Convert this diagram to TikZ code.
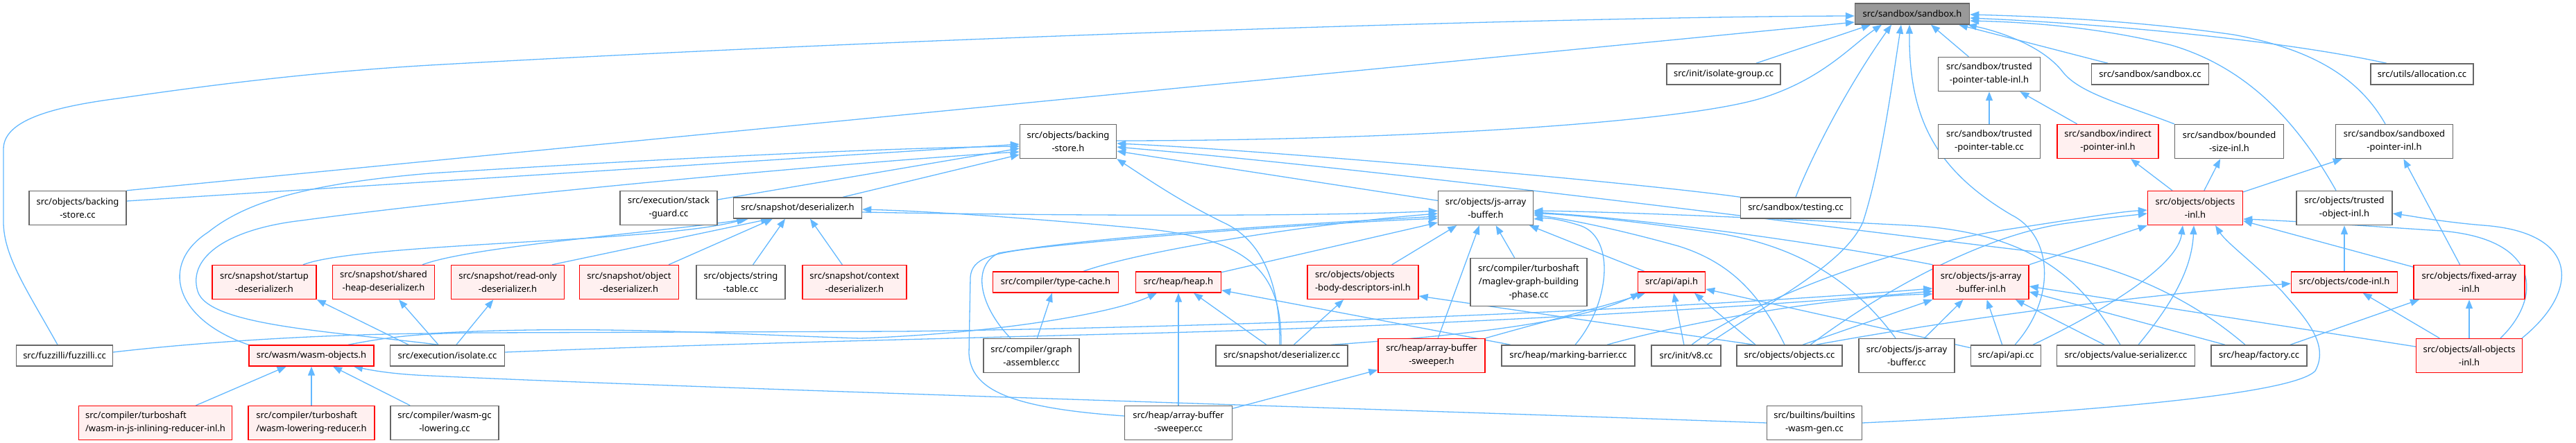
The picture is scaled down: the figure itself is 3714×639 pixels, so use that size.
\documentclass[tikz,border=0pt]{standalone}
\usepackage{fontspec}
\setmainfont{Noto Sans}
\usetikzlibrary{arrows.meta}
\pgfdeclarelayer{bg}
\pgfsetlayers{bg,main}
\definecolor{edgec}{HTML}{63B8FF}
\definecolor{redfill}{HTML}{FFF0F0}
\definecolor{rootfill}{HTML}{999999}
\definecolor{bord}{HTML}{666666}
\tikzset{
 box/.style={draw=bord, fill=white, line width=1.4pt, inner sep=0pt, align=center, font=\fontsize{13}{19}\selectfont, text=black},
 rbox/.style={box, draw=red, fill=redfill},
 root/.style={box, fill=rootfill},
 wd/.style={minimum width=#1},
 s1/.style={minimum height=30pt},
 s2/.style={minimum height=49pt},
 s3/.style={minimum height=69pt},
 e/.style={draw=edgec, line width=1.3pt, -{Triangle[length=13pt,width=10pt]}},
}
\begin{document}
\begin{tikzpicture}[x=1pt,y=-1pt]
\useasboundingbox (0,0) rectangle (3714,639);
\node[root,wd=165,s1] (S) at (2757,20) {src/sandbox/sandbox.h};
\node[box,wd=164,s1] (isogroup) at (2485,107) {src/init/isolate-group.cc};
\node[box,wd=147,s2] (tptinl) at (2868,107) {src/sandbox/trusted\\-pointer-table-inl.h};
\node[box,wd=169,s1] (sandboxcc) at (3100,107) {src/sandbox/sandbox.cc};
\node[box,wd=148,s1] (alloc) at (3492,107) {src/utils/allocation.cc};
\node[box,wd=139,s2] (BSH) at (1540,204) {src/objects/backing\\-store.h};
\node[box,wd=147,s2] (tptcc) at (2868,204) {src/sandbox/trusted\\-pointer-table.cc};
\node[rbox,wd=146,s2] (indptr) at (3039,204) {src/sandbox/indirect\\-pointer-inl.h};
\node[box,wd=157,s2] (bounded) at (3214,204) {src/sandbox/bounded\\-size-inl.h};
\node[box,wd=169,s2] (sbptr) at (3452,204) {src/sandbox/sandboxed\\-pointer-inl.h};
\node[box,wd=140,s2] (bscc) at (112,300) {src/objects/backing\\-store.cc};
\node[box,wd=140,s2] (stackguard) at (964,300) {src/execution/stack\\-guard.cc};
\node[box,wd=185,s1] (desh) at (1150,300) {src/snapshot/deserializer.h};
\node[box,wd=137,s2] (jsabh) at (2142,300) {src/objects/js-array\\-buffer.h};
\node[box,wd=159,s1] (testing) at (2589,300) {src/sandbox/testing.cc};
\node[rbox,wd=137,s2] (objinl) at (3165,300) {src/objects/objects\\-inl.h};
\node[box,wd=138,s2] (trobj) at (3380,300) {src/objects/trusted\\-object-inl.h};
\node[rbox,wd=150,s2] (startup) at (381,407) {src/snapshot/startup\\-deserializer.h};
\node[rbox,wd=147,s2] (shared) at (553,407) {src/snapshot/shared\\-heap-deserializer.h};
\node[rbox,wd=163,s2] (readonly) at (732,407) {src/snapshot/read-only\\-deserializer.h};
\node[rbox,wd=143,s2] (objdes) at (907,407) {src/snapshot/object\\-deserializer.h};
\node[box,wd=128,s2] (stringtab) at (1068,407) {src/objects/string\\-table.cc};
\node[rbox,wd=150,s2] (context) at (1232,407) {src/snapshot/context\\-deserializer.h};
\node[rbox,wd=181,s1] (typecache) at (1522,407) {src/compiler/type-cache.h};
\node[rbox,wd=123,s1] (heap) at (1699,407) {src/heap/heap.h};
\node[rbox,wd=160,s2,align=left] (obd) at (1965,407) {src/objects/objects\\-body-descriptors-inl.h};
\node[box,wd=168,s3] (maglev) at (2204,407) {src/compiler/turboshaft\\/maglev-graph-building\\-phase.cc};
\node[rbox,wd=97,s1] (apih) at (2410,407) {src/api/api.h};
\node[rbox,wd=138,s2] (JABI) at (2856,407) {src/objects/js-array\\-buffer-inl.h};
\node[rbox,wd=153,s1] (codeinl) at (3380,407) {src/objects/code-inl.h};
\node[rbox,wd=160,s2] (FAI) at (3560,407) {src/objects/fixed-array\\-inl.h};
\node[box,wd=139,s1] (fuzzilli) at (93,513) {src/fuzzilli/fuzzilli.cc};
\node[rbox,wd=180,s1] (WO) at (449,513) {src/wasm/wasm-objects.h};
\node[box,wd=165,s1] (isolatecc) at (645,513) {src/execution/isolate.cc};
\node[box,wd=138,s2] (graphasm) at (1487,513) {src/compiler/graph\\-assembler.cc};
\node[box,wd=190,s1] (descc) at (1848,513) {src/snapshot/deserializer.cc};
\node[rbox,wd=154,s2] (abswh) at (2064,513) {src/heap/array-buffer\\-sweeper.h};
\node[box,wd=192,s1] (markbar) at (2261,513) {src/heap/marking-barrier.cc};
\node[box,wd=100,s1] (v8cc) at (2431,513) {src/init/v8.cc};
\node[box,wd=152,s1] (objectscc) at (2580,513) {src/objects/objects.cc};
\node[box,wd=138,s2] (jsabcc) at (2749,513) {src/objects/js-array\\-buffer.cc};
\node[box,wd=101,s1] (apicc) at (2892,513) {src/api/api.cc};
\node[box,wd=199,s1] (valueser) at (3065,513) {src/objects/value-serializer.cc};
\node[box,wd=138,s1] (factory) at (3257,513) {src/heap/factory.cc};
\node[rbox,wd=153,s2] (allobj) at (3560,513) {src/objects/all-objects\\-inl.h};
\node[rbox,wd=221,s2,align=left] (inlining) at (224,610) {src/compiler/turboshaft\\/wasm-in-js-inlining-reducer-inl.h};
\node[rbox,wd=182,s2,align=left] (lowering) at (449,610) {src/compiler/turboshaft\\/wasm-lowering-reducer.h};
\node[box,wd=156,s2] (wasmgc) at (641,610) {src/compiler/wasm-gc\\-lowering.cc};
\node[box,wd=155,s2] (abswcc) at (1699,610) {src/heap/array-buffer\\-sweeper.cc};
\node[box,wd=137,s2] (builtins) at (2616,610) {src/builtins/builtins\\-wasm-gen.cc};

\begin{pgfonlayer}{bg}
% sandbox.h
\draw[e] ([xshift=-10pt]fuzzilli.north) .. controls (40,420) and (5,370) .. (5,320) -- (5,215) .. controls (5,175) and (70,155) .. (170,142) .. controls (300,123) and (450,104) .. (620,94) .. controls (1400,50) and (2300,24) .. ([yshift=-3pt]S.west);
\draw[e] (bscc.north east) -- ([yshift=-12pt]S.west);
\draw[e] (isogroup) -- ([xshift=-60pt]S.south);
\draw[e] ([yshift=1pt]BSH.east) .. controls (2000,203) and (2430,178) .. (2545,140) .. controls (2630,112) and (2670,65) .. ([xshift=-44pt]S.south);
\draw[e] (testing.north) .. controls (2610,230) and (2660,130) .. ([xshift=-30pt]S.south);
\draw[e] ([xshift=30pt]v8cc.north) .. controls (2560,430) and (2660,380) .. (2686,320) .. controls (2712,240) and (2728,120) .. ([xshift=-16pt]S.south);
\draw[e] ([xshift=13pt]apicc.north) .. controls (2965,430) and (2960,340) .. (2900,310) .. controls (2790,245) and (2752,170) .. ([xshift=-4pt]S.south);
\draw[e] (tptinl) -- ([xshift=27pt]S.south);
\draw[e] (sandboxcc) -- ([xshift=67pt]S.south);
\draw[e] (bounded.north west) .. controls (3060,150) and (3000,135) .. (2975,105) .. controls (2945,65) and (2880,45) .. ([xshift=80pt]S.south);
\draw[e] ([xshift=-13pt]sbptr.north) .. controls (3400,110) and (3330,70) .. (3220,50) .. controls (3080,30) and (2950,24) .. ([yshift=-1pt]S.east);
\draw[e] ([xshift=-51pt]alloc.north) .. controls (3300,60) and (3050,35) .. ([yshift=-6pt]S.east);
\draw[e] ([xshift=-12pt]trobj.north) .. controls (3320,190) and (3250,100) .. (3130,65) .. controls (3020,38) and (2920,32) .. ([yshift=-10pt]S.east);
% trusted pointer table
\draw[e] (tptcc) -- (tptinl);
\draw[e] (indptr) -- (tptinl);
\draw[e] (objinl) -- (indptr);
\draw[e] (objinl) -- (bounded);
\draw[e] (objinl) -- (sbptr);
% backing-store.h
\draw[e] ([yshift=10pt]bscc.east) -- ([yshift=-4pt]BSH.west);
\draw[e] (WO.north west) .. controls (250,460) and (230,380) .. (300,335) .. controls (350,295) and (430,266) .. (620,250) .. controls (1000,226) and (1300,213) .. ([yshift=-7pt]BSH.west);
\draw[e] ([xshift=-13pt]isolatecc.north) .. controls (480,478) and (300,470) .. (285,420) .. controls (270,370) and (330,330) .. (435,318) .. controls (700,282) and (1250,232) .. ([yshift=-15pt]BSH.west);
\draw[e] (stackguard) -- ([yshift=-10pt]BSH.west);
\draw[e] (desh) -- ([yshift=-19pt]BSH.west);
\draw[e] (jsabh) -- ([yshift=-14pt]BSH.east);
\draw[e] (testing.north west) .. controls (2350,262) and (1800,215) .. ([yshift=-3pt]BSH.east);
\draw[e] ([xshift=-20pt]factory.north) .. controls (3170,440) and (3080,390) .. (2950,365) .. controls (2650,330) and (2050,250) .. ([yshift=-8pt]BSH.east);
\draw[e] ([xshift=-3pt]descc.north) .. controls (1846,420) and (1825,350) .. (1766,322) .. controls (1700,290) and (1650,255) .. (BSH.south east);
% deserializer.h
\draw[e] ([xshift=56pt]startup.north) .. controls (520,350) and (950,350) .. ([xshift=-75pt]desh.south);
\draw[e] ([xshift=56pt]shared.north) .. controls (680,355) and (950,335) .. ([xshift=-71pt]desh.south);
\draw[e] ([xshift=64pt]readonly.north) -- ([xshift=-40pt]desh.south);
\draw[e] (objdes) -- ([xshift=-36pt]desh.south);
\draw[e] (stringtab) -- ([xshift=-18pt]desh.south);
\draw[e] (context) -- ([xshift=18pt]desh.south);
\draw[e] ([xshift=-1pt]descc.north) .. controls (1848,400) and (1810,345) .. (1650,330) .. controls (1500,316) and (1350,305) .. ([yshift=-2pt]desh.east);
% js-array-buffer.h
\draw[e] ([yshift=-6pt]desh.east) .. controls (1500,311) and (1900,313) .. ([yshift=-4pt]jsabh.west);
\draw[e] (heap) -- ([yshift=-21pt]jsabh.west);
\draw[e] ([xshift=40pt]typecache.north) .. controls (1650,360) and (1900,322) .. ([yshift=-8pt]jsabh.west);
\draw[e] ([xshift=-30pt]graphasm.north) .. controls (1415,445) and (1398,385) .. (1440,365) .. controls (1600,338) and (1900,322) .. ([yshift=-12pt]jsabh.west);
\draw[e] ([yshift=10pt]abswcc.west) .. controls (1450,588) and (1400,560) .. (1397,510) -- (1399,400) .. controls (1401,372) and (1430,365) .. (1500,357) .. controls (1700,335) and (1950,320) .. ([yshift=-15pt]jsabh.west);
\draw[e] (obd) -- (jsabh);
\draw[e] (abswh) -- (jsabh);
\draw[e] (maglev) -- (jsabh);
\draw[e] (apih) -- (jsabh);
\draw[e] (JABI.north west) .. controls (2650,355) and (2400,318) .. ([yshift=-6pt]jsabh.east);
\draw[e] ([xshift=-7pt]objectscc.north) .. controls (2540,430) and (2500,380) .. (2420,355) .. controls (2330,330) and (2260,316) .. ([yshift=-10pt]jsabh.east);
\draw[e] ([xshift=-16pt]jsabcc.north) .. controls (2690,430) and (2620,360) .. (2480,337) .. controls (2350,318) and (2260,309) .. ([yshift=-8pt]jsabh.east);
\draw[e] ([xshift=-8pt]valueser.north) .. controls (3010,420) and (2950,335) .. (2750,325) .. controls (2500,312) and (2300,305) .. ([yshift=-4pt]jsabh.east);
\draw[e] ([xshift=10pt]markbar.north) .. controls (2320,440) and (2330,345) .. (2280,326) .. controls (2250,316) and (2230,314) .. ([yshift=-16pt]jsabh.east);
% heap.h and others
\draw[e] ([yshift=5pt]fuzzilli.east) .. controls (300,492) and (480,482) .. (620,481) .. controls (850,468) and (1050,482) .. (1240,488) .. controls (1450,480) and (1610,450) .. ([xshift=-31pt]heap.south);
\draw[e] (descc) -- (heap);
\draw[e] (abswcc) -- (heap);
\draw[e] (markbar) -- (heap);
\draw[e] (graphasm) -- (typecache);
\draw[e] (descc) -- (obd);
\draw[e] (abswcc) -- (abswh);
% api.h
\draw[e] (v8cc) -- (apih);
\draw[e] (apicc) -- ([yshift=-10pt]apih.east);
\draw[e] ([xshift=-49pt]objectscc.north) -- ([xshift=33pt]apih.south);
\draw[e] ([xshift=71pt]descc.north) .. controls (2100,485) and (2280,465) .. ([xshift=-46pt]apih.south);
\draw[e] (abswh.north east) .. controls (2240,460) and (2320,440) .. ([xshift=-38pt]apih.south);
% js-array-buffer-inl.h
\draw[e] (apicc) -- (JABI);
\draw[e] ([xshift=19pt]objectscc.north) -- (JABI.south west);
\draw[e] (jsabcc) -- (JABI);
\draw[e] (valueser) -- (JABI);
\draw[e] ([xshift=53pt]WO.north) .. controls (570,484) and (620,480) .. (700,480) -- (1300,478) .. controls (1900,470) and (2500,440) .. ([yshift=-9pt]JABI.west);
\draw[e] ([yshift=5pt]isolatecc.east) .. controls (1000,497) and (1300,490) .. (1600,482) .. controls (2000,473) and (2500,446) .. ([yshift=-13pt]JABI.west);
\draw[e] ([xshift=56pt]markbar.north) .. controls (2450,460) and (2650,428) .. ([yshift=-17pt]JABI.west);
\draw[e] ([yshift=13pt]allobj.west) -- ([yshift=-6pt]JABI.east);
\draw[e] ([xshift=-49pt]factory.north) -- ([yshift=-14pt]JABI.east);
% objects-inl.h
\draw[e] (JABI.north east) -- (objinl.south west);
\draw[e] (FAI) -- (objinl);
\draw[e] ([xshift=8pt]v8cc.north) .. controls (2500,450) and (2700,360) .. (2900,330) .. controls (3000,315) and (3050,306) .. ([yshift=-3pt]objinl.west);
\draw[e] ([xshift=30pt]objectscc.north) .. controls (2700,430) and (2850,340) .. (2980,322) .. controls (3030,315) and (3060,312) .. ([yshift=-8pt]objinl.west);
\draw[e] ([xshift=39pt]apicc.north) .. controls (3050,440) and (3140,380) .. ([xshift=-18pt]objinl.south);
\draw[e] ([xshift=18pt]valueser.north) .. controls (3130,440) and (3160,390) .. ([xshift=-2pt]objinl.south);
\draw[e] (builtins.east) .. controls (2900,600) and (3300,575) .. (3338,535) .. controls (3360,495) and (3320,455) .. (3290,420) .. controls (3250,380) and (3210,350) .. ([xshift=29pt]objinl.south);
\draw[e] ([xshift=45pt]allobj.north) .. controls (3665,430) and (3665,345) .. (3520,333) .. controls (3400,325) and (3290,318) .. ([yshift=-16pt]objinl.east);
% code-inl, trusted-object, fixed-array
\draw[e] (FAI) -- (sbptr);
\draw[e] (allobj) -- (FAI);
\draw[e] (allobj) -- (codeinl);
\draw[e] ([xshift=76pt]allobj.north) .. controls (3720,420) and (3720,335) .. (3580,325) .. controls (3520,320) and (3480,312) .. ([yshift=-8pt]trobj.east);
\draw[e] (codeinl) -- (trobj);
\draw[e] (factory) -- (FAI);
\draw[e] ([xshift=38pt]objectscc.north) .. controls (2850,455) and (3100,425) .. ([yshift=-2pt]codeinl.west);
\draw[e] ([xshift=-51pt]objectscc.north) -- ([yshift=-20pt]obd.east);
% wasm-objects.h
\draw[e] (inlining) -- (WO);
\draw[e] (lowering) -- (WO);
\draw[e] (wasmgc) -- (WO);
\draw[e] (builtins.west) .. controls (2000,590) and (1000,560) .. (620,542) .. controls (570,540) and (540,535) .. ([xshift=61pt]WO.south);
% isolate.cc
\draw[e] ([xshift=-56pt]isolatecc.north) -- (startup.south east);
\draw[e] ([xshift=-13pt]isolatecc.north) -- (shared);
\draw[e] (isolatecc) -- (readonly);
\end{pgfonlayer}
\end{tikzpicture}
\end{document}
